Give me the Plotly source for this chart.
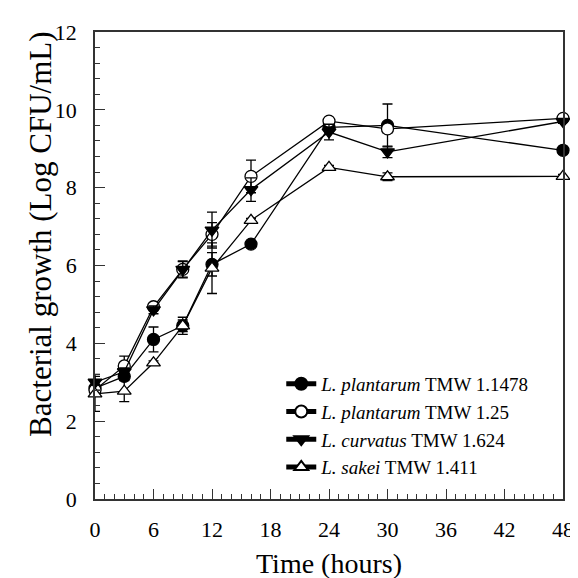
import plotly.graph_objects as go

# sampling times (hours)
time_h = [0, 3, 6, 9, 12, 16, 24, 30, 48]

# growth, log CFU/mL
lp1478 = [2.85, 3.15, 4.1, 4.45, 6.03, 6.55, 9.55, 9.6, 8.96]
lp125 = [2.8, 3.42, 4.94, 5.9, 6.8, 8.29, 9.71, 9.51, 9.78]
lc1624 = [3.0, 3.27, 4.86, 5.9, 6.91, 7.95, 9.43, 8.92, 9.7]
ls1411 = [2.7, 2.77, 3.5, 4.45, 5.93, 7.16, 8.52, 8.28, 8.29]

# standard deviations
lp1478_sd = [0.15, 0.1, 0.32, 0.22, 0.3, 0.05, 0.05, 0.55, 0.05]
lp125_sd = [0.1, 0.25, 0.05, 0.2, 0.3, 0.42, 0.05, 0.1, 0.05]
lc1624_sd = [0.2, 0.1, 0.1, 0.22, 0.46, 0.3, 0.2, 0.15, 0.05]
ls1411_sd = [0.45, 0.27, 0.05, 0.15, 0.65, 0.05, 0.05, 0.1, 0.05]

names = ['<i>L. plantarum</i> TMW 1.1478', '<i>L. plantarum</i> TMW 1.25',
         '<i>L. curvatus</i> TMW 1.624', '<i>L. sakei</i> TMW 1.411']
series = [lp1478, lp125, lc1624, ls1411]
errors = [lp1478_sd, lp125_sd, lc1624_sd, ls1411_sd]
symbols = ['circle', 'circle', 'triangle-down', 'triangle-up']
fills = ['black', 'white', 'black', 'white']

fig = go.Figure()
for name, y, e, sym, fc in zip(names, series, errors, symbols, fills):
    fig.add_trace(go.Scatter(
        x=time_h, y=y, name=name, mode='lines+markers',
        line=dict(color='black', width=1.3),
        marker=dict(symbol=sym, size=12, color=fc, line=dict(color='black', width=1.3)),
        error_y=dict(type='data', array=e, color='black', thickness=1.3, width=5),
        cliponaxis=False,
    ))

font = 'Liberation Serif, Times New Roman, serif'
fig.update_layout(
    width=578, height=578,
    margin=dict(l=87, r=13, t=16, b=85),
    plot_bgcolor='white', paper_bgcolor='white',
    font=dict(family=font, color='black', size=22),
    showlegend=True,
    legend=dict(x=0.398, y=0.287, xanchor='left', yanchor='top',
                bgcolor='rgba(0,0,0,0)', font=dict(size=19),
                itemsizing='constant', tracegroupgap=0),
    annotations=[dict(
        text='Bacterial growth (Log CFU/mL)', textangle=-90,
        xref='paper', yref='paper', x=-0.115, y=0.568,
        xanchor='center', yanchor='middle', showarrow=False,
        font=dict(size=31),
    )],
)
fig.update_xaxes(
    range=[0, 48], dtick=6, tick0=0,
    showline=True, linecolor='#333', linewidth=1.6, mirror=True,
    ticks='inside', ticklen=10, tickwidth=1.3, tickcolor='#333',
    minor=dict(dtick=1, ticks='inside', ticklen=5, tickcolor='#333', tickwidth=1.2),
    showgrid=False, zeroline=False, ticklabelstandoff=10,
    title=dict(text='Time (hours)', font=dict(size=28), standoff=12),
)
fig.update_yaxes(
    range=[0, 12], dtick=2, tick0=0,
    showline=True, linecolor='#333', linewidth=1.6, mirror=True,
    ticks='inside', ticklen=10, tickwidth=1.3, tickcolor='#333',
    minor=dict(dtick=0.4, ticks='inside', ticklen=5, tickcolor='#333', tickwidth=1.2),
    showgrid=False, zeroline=False, ticklabelstandoff=12,
)

fig.write_html("out.html")
